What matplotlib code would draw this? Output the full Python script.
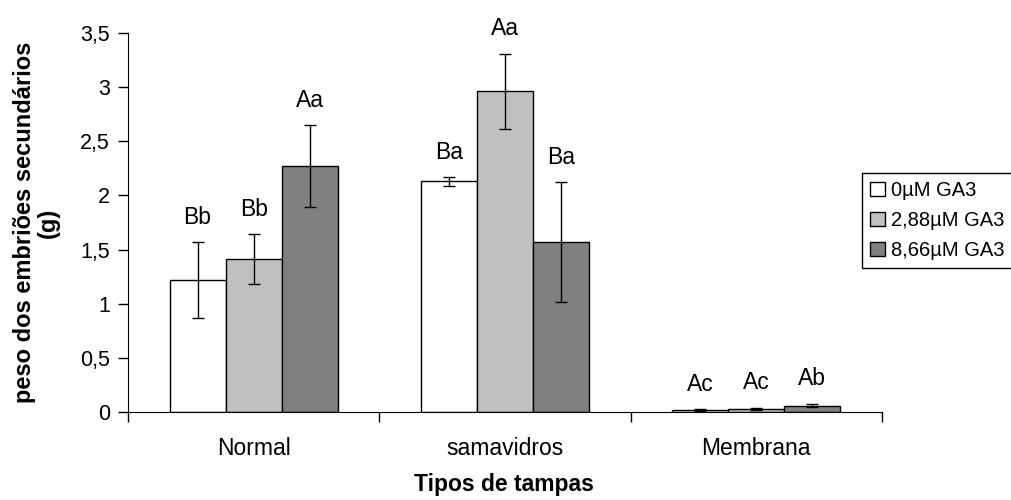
import matplotlib
matplotlib.use("Agg")
import matplotlib.pyplot as plt
import numpy as np
from matplotlib.ticker import FuncFormatter, FixedLocator

plt.rcParams['font.family'] = ['Liberation Sans', 'DejaVu Sans']

# data
categories = ["Normal", "samavidros", "Membrana"]
series_names = ["0µM GA3", "2,88µM GA3", "8,66µM GA3"]
ga0 = [1.22, 2.13, 0.015]
ga288 = [1.41, 2.96, 0.03]
ga866 = [2.27, 1.57, 0.06]
err0 = [0.35, 0.04, 0.01]
err288 = [0.23, 0.35, 0.01]
err866 = [0.38, 0.55, 0.015]
letters0 = ["Bb", "Ba", "Ac"]
letters288 = ["Bb", "Aa", "Ac"]
letters866 = ["Aa", "Ba", "Ab"]

colors = ["white", "#c0c0c0", "#808080"]

fig = plt.figure(figsize=(10.11, 5.0), dpi=100)
ax = fig.add_axes([0.1266, 0.176, 0.7458, 0.758])

x = np.arange(len(categories))
w = 0.223
groups = [(ga0, err0, letters0), (ga288, err288, letters288), (ga866, err866, letters866)]
for i, (vals, errs, lets) in enumerate(groups):
    pos = x + (i - 1) * w
    ax.bar(pos, vals, width=w, color=colors[i], edgecolor="black", linewidth=1.0,
           label=series_names[i], zorder=2)
    ax.errorbar(pos, vals, yerr=errs, fmt="none", ecolor="black", elinewidth=1.0,
                capsize=4.5, capthick=1.0, zorder=3)
    for p, v, e, t in zip(pos, vals, errs, lets):
        ax.text(p, v + e + 0.23, t, ha="center", va="center", fontsize=16.5, clip_on=False)

ax.set_xlim(-0.5, len(categories) - 0.5)
ax.set_ylim(0, 3.5)
ax.set_yticks(np.arange(0, 3.51, 0.5))
ax.yaxis.set_major_formatter(FuncFormatter(lambda v, p: f"{v:g}".replace(".", ",")))
ax.tick_params(axis="y", labelsize=15.5, length=7, width=1, direction="out", pad=6)

ax.xaxis.set_major_locator(FixedLocator(np.arange(-0.5, len(categories), 1.0)))
ax.xaxis.set_major_formatter(FuncFormatter(lambda v, p: ""))
ax.xaxis.set_minor_locator(FixedLocator(x))
ax.set_xticklabels(categories, minor=True)
ax.tick_params(axis="x", which="major", length=7, width=1, direction="out")
ax.tick_params(axis="x", which="minor", length=0, labelsize=16.5, pad=18)

for s in ["top", "right"]:
    ax.spines[s].set_visible(False)

ax.set_xlabel("Tipos de tampas", fontsize=16.5, fontweight="bold")
ax.xaxis.set_label_coords(0.499, -0.162)
ax.set_ylabel("peso dos embriões secundários\n(g)", fontsize=17, fontweight="bold",
              linespacing=1.05)
ax.yaxis.set_label_coords(-0.09, 0.5)

leg = fig.legend(loc="upper left", bbox_to_anchor=(0.853, 0.654), fontsize=14.5,
                 frameon=True, fancybox=False, edgecolor="black", framealpha=1,
                 handlelength=0.7, handleheight=0.7, handletextpad=0.3,
                 labelspacing=0.55, borderpad=0.4, borderaxespad=0)
leg.get_frame().set_linewidth(1.0)

fig.savefig("out.png", dpi=100)
